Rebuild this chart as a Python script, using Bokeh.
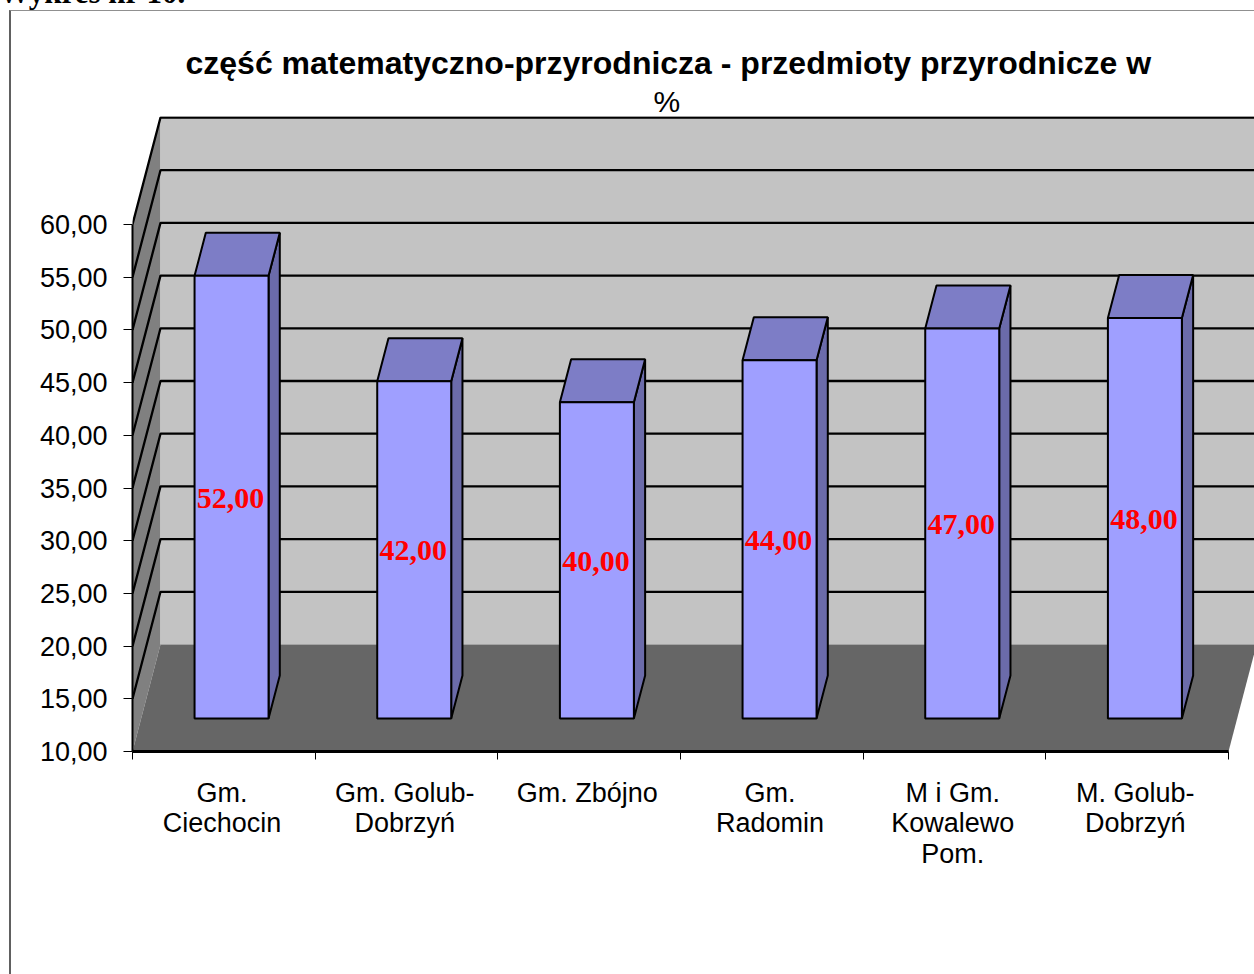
from bokeh.plotting import figure
from bokeh.models import (Range1d, FixedTicker, LinearAxis, Div, Title)
from bokeh.core.properties import value
from bokeh.embed import file_html
from bokeh.resources import INLINE

categories = ["Gm.\nCiechocin", "Gm. Golub-\nDobrzyń", "Gm. Zbójno", "Gm.\nRadomin",
              "M i Gm.\nKowalewo\nPom.", "M. Golub-\nDobrzyń"]
values = [52, 42, 40, 44, 47, 48]
labels = ["52,00", "42,00", "40,00", "44,00", "47,00", "48,00"]
y_ticks = [10, 15, 20, 25, 30, 35, 40, 45, 50, 55, 60]
title_line1 = "część matematyczno-przyrodnicza - przedmioty przyrodnicze w"
title_line2 = "%"
heading = "Wykres nr 10."

BASE = 10
TOP = 60
PX_X = 182.67   # pixels per category
PX_Y = 10.54    # pixels per value unit
DEPTH_X = 28 / PX_X
DEPTH_Y = 107 / PX_Y
BAR_W = 0.405
BAR_SHIFT = -0.005
D_FRONT = 0.308
D_BACK = 0.71
N = len(categories)
X_END = 1122 / PX_X
Y_END = BASE + 635 / PX_Y


def proj(x, y, d):
    return x + d * DEPTH_X, y + d * DEPTH_Y


def poly(points):
    xy = [proj(*pt) for pt in points]
    return [a for a, _ in xy], [b for _, b in xy]


p = figure(width=1254, height=974, frame_width=1122, frame_height=635,
           x_range=Range1d(0, X_END), y_range=Range1d(BASE, Y_END),
           output_backend="svg", toolbar_location=None,
           min_border_left=132, min_border_right=0, min_border_top=116, min_border_bottom=223,
           background_fill_color="white", border_fill_color="white", outline_line_color=None,
           x_axis_type=None, y_axis_type=None)
p.grid.visible = False

# title, one Title per line (left aligned with an offset from the frame's left edge)
p.add_layout(Title(text=title_line2, text_font="Liberation Sans", text_font_size="30px", text_font_style="normal",
                   text_color="black", align="left", offset=521, standoff=-2), "above")
p.add_layout(Title(text=title_line1, text_font="Liberation Sans", text_font_size="32px", text_font_style="bold",
                   text_color="black", align="left", offset=53, standoff=5), "above")

# walls and floor
xs, ys = poly([(0, BASE, 0), (0, TOP, 0), (0, TOP, 1), (0, BASE, 1)])
p.patch(xs, ys, fill_color="#808080", line_color=None)
xs, ys = poly([(0, BASE, 1), (0, TOP, 1), (X_END, TOP, 1), (X_END, BASE, 1)])
p.patch(xs, ys, fill_color="#c3c3c3", line_color=None)
xs, ys = poly([(0, BASE, 0), (0, BASE, 1), (N, BASE, 1), (N, BASE, 0)])
p.patch(xs, ys, fill_color="#666666", line_color=None)

# gridlines on both walls
for v in y_ticks:
    if v == BASE:
        continue
    xs, ys = poly([(0, v, 0), (0, v, 1), (X_END, v, 1)])
    p.line(xs, ys, line_color="black", line_width=2.3)

# bars
for i, v in enumerate(values):
    x0 = i + 0.5 - BAR_W / 2 + BAR_SHIFT
    x1 = x0 + BAR_W
    xs, ys = poly([(x1, BASE, D_FRONT), (x1, BASE, D_BACK), (x1, v, D_BACK), (x1, v, D_FRONT)])
    p.patch(xs, ys, fill_color="#6b6baa", line_color="black", line_width=2)
    xs, ys = poly([(x0, v, D_FRONT), (x0, v, D_BACK), (x1, v, D_BACK), (x1, v, D_FRONT)])
    p.patch(xs, ys, fill_color="#7d7dc6", line_color="black", line_width=2)
    xs, ys = poly([(x0, BASE, D_FRONT), (x0, v, D_FRONT), (x1, v, D_FRONT), (x1, BASE, D_FRONT)])
    p.patch(xs, ys, fill_color="#9f9fff", line_color="black", line_width=2)
    tx, ty = proj(i + 0.5 + BAR_SHIFT, (BASE + v) / 2, D_FRONT)
    p.text([tx], [ty], text=[labels[i]], text_font=value("Liberation Serif"), text_font_style="bold",
           text_font_size="30px", text_color="#ff0000", text_align="center", text_baseline="middle",
           x_offset=-1, y_offset=1)

# axes
left = LinearAxis(ticker=FixedTicker(ticks=y_ticks), bounds=(BASE, TOP),
                  major_label_overrides={v: f"{v},00" for v in y_ticks},
                  major_label_text_font="Liberation Sans", major_label_text_font_size="27px",
                  major_label_text_color="black", major_label_standoff=16,
                  major_tick_in=0, major_tick_out=9, major_tick_line_color="black", major_tick_line_width=1,
                  minor_tick_in=0, minor_tick_out=0, axis_line_color="black", axis_line_width=2)
p.add_layout(left, "left")

centers = [i + 0.49 for i in range(N)]
edges = list(range(N + 1))
bottom = LinearAxis(ticker=FixedTicker(ticks=centers, minor_ticks=edges), bounds=(0, N),
                    major_label_overrides=dict(zip(centers, categories)),
                    major_label_text_font="Liberation Sans", major_label_text_font_size="27px",
                    major_label_text_color="black", major_label_text_line_height=1.03, major_label_standoff=18,
                    major_tick_in=0, major_tick_out=0,
                    minor_tick_in=0, minor_tick_out=8, minor_tick_line_color="black", minor_tick_line_width=1,
                    axis_line_color="black", axis_line_width=3)
p.add_layout(bottom, "below")

# chart frame and clipped heading above it, as floating elements of the figure
frame_box = Div(text="",
                styles={"position": "absolute", "left": "9px", "top": "10px",
                        "width": "1245px", "height": "964px", "box-sizing": "border-box",
                        "border-left": "2px solid #606060", "border-top": "1px solid #909090",
                        "pointer-events": "none"})
heading_div = Div(text=heading,
                  styles={"position": "absolute", "left": "-1px", "top": "-23px", "white-space": "nowrap",
                          "font-family": "Liberation Serif", "font-weight": "bold", "font-size": "31px",
                          "line-height": "31px", "color": "black"})
p.elements = [frame_box, heading_div]

open("out.html", "w").write(file_html(p, INLINE))
